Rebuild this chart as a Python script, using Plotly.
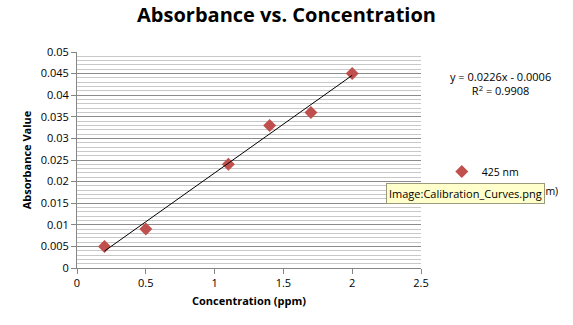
import plotly.graph_objects as go

conc = [0.2, 0.5, 1.1, 1.4, 1.7, 2.0]
absorb = [0.005, 0.009, 0.024, 0.033, 0.036, 0.045]
slope = 0.0226
intercept = -0.0006
fit_x = [min(conc), max(conc)]
fit_y = [slope * v + intercept for v in fit_x]

FONT = "Open Sans"

fig = go.Figure()
fig.add_trace(go.Scatter(
    x=conc, y=absorb, mode="markers", name="425 nm",
    marker=dict(symbol="diamond", size=10, color="#C0504D"),
))
fig.add_trace(go.Scatter(
    x=fit_x, y=fit_y, mode="lines", name="Linear (425 nm)",
    line=dict(color="#000000", width=1),
))

fig.update_layout(
    width=573, height=325,
    margin=dict(l=77, r=152, t=52, b=57, autoexpand=False),
    paper_bgcolor="white", plot_bgcolor="white",
    font=dict(family=FONT, size=11, color="#000000"),
    title=dict(text="<b>Absorbance vs. Concentration</b>", x=0.5, xanchor="center",
               xref="container", y=0.975, yanchor="top",
               font=dict(family=FONT, size=20, color="#000000")),
    showlegend=True,
    legend=dict(xref="container", yref="container", x=0.771, y=0.443,
                xanchor="left", yanchor="middle",
                font=dict(family=FONT, size=10.5), bgcolor="rgba(0,0,0,0)",
                itemwidth=30),
    xaxis=dict(range=[0, 2.5], dtick=0.5, tick0=0, showgrid=False,
               showline=True, linecolor="#868686", linewidth=1,
               ticks="outside", ticklen=5, tickcolor="#868686",
               zeroline=False, automargin=False,
               title=dict(text="<b>Concentration (ppm)</b>", font=dict(family=FONT, size=11),
                          standoff=8)),
    yaxis=dict(range=[0, 0.05], dtick=0.005, tick0=0, showgrid=True,
               gridcolor="#8c8c8c", gridwidth=1,
               minor=dict(dtick=0.001, showgrid=True, gridcolor="#c8c8c8", gridwidth=1),
               showline=True, linecolor="#868686", linewidth=1,
               ticks="outside", ticklen=5, tickcolor="#868686",
               zeroline=False, automargin=False,
               title=dict(text="<b>Absorbance Value</b>", font=dict(family=FONT, size=11),
                          standoff=6)),
)

fig.add_annotation(xref="paper", yref="paper", x=1.232, y=0.852, xanchor="center",
                   yanchor="middle", showarrow=False,
                   text="y = 0.0226x - 0.0006<br>R<sup>2</sup> = 0.9908",
                   font=dict(family=FONT, size=11), align="center")

fig.add_annotation(xref="paper", yref="paper", x=1.128, y=0.343, xanchor="center",
                   yanchor="middle", showarrow=False,
                   text="Image:Calibration_Curves.png",
                   font=dict(family=FONT, size=11), bgcolor="#FFFFCC",
                   bordercolor="#9a9a7a", borderwidth=1, borderpad=2)

fig.write_html("out.html")
